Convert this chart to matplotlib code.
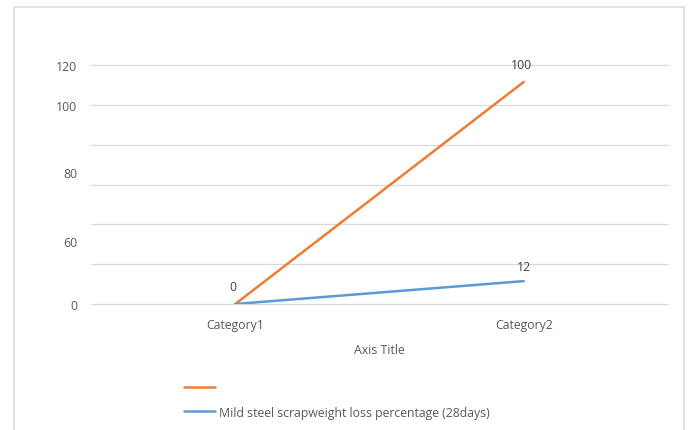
import matplotlib.pyplot as plt
from matplotlib.patches import Rectangle

categories = ['Category1', 'Category2']
orange_vals = [0, 111.5]
blue_vals = [0, 11.5]
orange_labels = ['0', '100']
blue_labels = ['', '12']
blue_name = 'Mild steel scrapweight loss percentage (28days)'

# the y labels in the picture sit off the gridlines
ytick_pos = [0, 31.6, 66.3, 100, 120]
ytick_txt = ['0', '60', '80', '100', '120']
grid_vals = [0, 20, 40, 60, 80, 100, 120]

plt.rcParams['font.family'] = ['Open Sans', 'DejaVu Sans']
fs = 8.8
txt_col = '#595959'
orange = '#ED7D31'
blue = '#5B9BD5'

fig = plt.figure(figsize=(6.9, 4.31), dpi=100)

# chart frame
fig.patches.append(Rectangle((14 / 690, -0.05), (684 - 14) / 690, 1.05 - 8 / 431,
                             transform=fig.transFigure, fill=False,
                             edgecolor='#e3e3e3', linewidth=1.5))

ax = fig.add_axes([91 / 690, 1 - 305 / 431, (668 - 91) / 690, (305 - 66) / 431])

for g in grid_vals:
    ax.axhline(g, color='#d9d9d9', linewidth=0.9, zorder=0, clip_on=False)

x = [0, 1]
p_or, = ax.plot(x, orange_vals, color=orange, linewidth=1.8, solid_capstyle='round', label=' ')
p_bl, = ax.plot(x, blue_vals, color=blue, linewidth=1.8, solid_capstyle='round', label=blue_name)

for i in range(2):
    if orange_labels[i]:
        ax.annotate(orange_labels[i], (x[i], orange_vals[i]), xytext=(-2, 8),
                    textcoords='offset points', ha='center', va='bottom',
                    fontsize=fs, color='#404040')
    if blue_labels[i]:
        ax.annotate(blue_labels[i], (x[i], blue_vals[i]), xytext=(0, 6),
                    textcoords='offset points', ha='center', va='bottom',
                    fontsize=fs, color='#404040')

ax.set_xlim(-0.5, 1.5)
ax.set_ylim(0, 120)
ax.set_xticks(x)
ax.set_xticklabels(categories, fontsize=fs, color=txt_col)
ax.set_yticks(ytick_pos)
ax.set_yticklabels(ytick_txt, fontsize=fs, color=txt_col)
ax.tick_params(axis='both', length=0)
ax.tick_params(axis='y', pad=10)
ax.tick_params(axis='x', pad=10)
for s in ax.spines.values():
    s.set_visible(False)
ax.set_xlabel('Axis Title', fontsize=fs, color=txt_col, labelpad=9)

fig.legend(handles=[p_or, p_bl], loc='upper left',
           bbox_to_anchor=(184 / 690, 1 - 382 / 431), frameon=False,
           fontsize=fs, labelcolor=txt_col, handlelength=2.5,
           handletextpad=0.4, labelspacing=0.95, borderpad=0, borderaxespad=0)

fig.savefig('out.png', dpi=100)
